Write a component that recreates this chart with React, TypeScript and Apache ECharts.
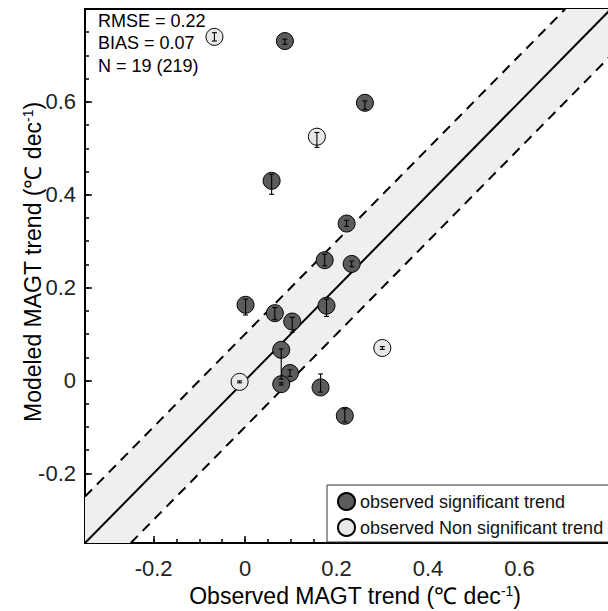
import React, { useEffect, useRef } from "react";
import * as echarts from "echarts";

const AXIS_MIN = -0.35;
const AXIS_MAX = 0.8;
const MAJOR_TICKS = [-0.2, 0, 0.2, 0.4, 0.6];
const MINOR_TICKS = [
  -0.35, -0.3, -0.25, -0.2, -0.15, -0.1, -0.05, 0, 0.05, 0.1, 0.15, 0.2, 0.25,
  0.3, 0.35, 0.4, 0.45, 0.5, 0.55, 0.6, 0.65, 0.7, 0.75, 0.8,
];
const BAND_OFFSET = 0.1;

const STATS = ["RMSE = 0.22", "BIAS = 0.07", "N = 19 (219)"];

const SIG_NAME = "observed significant trend";
const NONSIG_NAME = "observed Non significant trend";

// observed significant trend
const SIG_X = [0.087, 0.262, 0.058, 0.222, 0.174, 0.233, 0.001, 0.065, 0.103, 0.178, 0.079, 0.098, 0.079, 0.165, 0.218];
const SIG_Y = [0.731, 0.598, 0.43, 0.338, 0.259, 0.251, 0.163, 0.145, 0.127, 0.161, 0.066, 0.016, -0.008, -0.015, -0.076];
const SIG_LO = [0.724, 0.584, 0.401, 0.332, 0.247, 0.245, 0.141, 0.131, 0.104, 0.138, 0.003, 0.009, -0.01, -0.025, -0.089];
const SIG_HI = [0.735, 0.602, 0.444, 0.345, 0.272, 0.257, 0.175, 0.157, 0.136, 0.175, 0.068, 0.023, -0.005, 0.014, -0.061];

// observed non significant trend
const NS_X = [-0.067, 0.157, -0.012, 0.3];
const NS_Y = [0.74, 0.525, -0.003, 0.07];
const NS_LO = [0.731, 0.502, -0.005, 0.067];
const NS_HI = [0.749, 0.534, -0.001, 0.073];

const FONT = "'Liberation Sans', Arial, Helvetica, sans-serif";

function fmt(v: number) {
  const r = Math.round(v * 100) / 100;
  return r === 0 ? "0" : String(r);
}

export default function App() {
  const ref = useRef<HTMLDivElement>(null);

  useEffect(() => {
    if (!ref.current) return;
    const chart = echarts.init(ref.current, undefined, { renderer: "svg" });

    const sigPts = SIG_X.map((x, i) => [x, SIG_Y[i]]);
    const nsPts = NS_X.map((x, i) => [x, NS_Y[i]]);
    const errData = [
      ...SIG_X.map((x, i) => [x, SIG_LO[i], SIG_HI[i]]),
      ...NS_X.map((x, i) => [x, NS_LO[i], NS_HI[i]]),
    ];

    const lineStyleBlack = { stroke: "#000", lineWidth: 1.1 };

    const baseAxis = {
      type: "value",
      min: AXIS_MIN,
      max: AXIS_MAX,
      splitLine: { show: false },
    };

    const majorAxis = (name: string, isY: boolean) => ({
      ...baseAxis,
      position: isY ? "left" : "bottom",
      name,
      nameLocation: "middle",
      nameGap: isY ? 40 : 41,
      nameMoveOverlap: false,
      nameRotate: isY ? 90 : 0,
      nameTextStyle: {
        fontFamily: FONT,
        fontSize: 23,
        color: "#000",
        padding: isY ? [0, 0, 0, 28] : [0, 0, 0, 14],
        rich: {
          n: { fontFamily: FONT, fontSize: 23, color: "#000", lineHeight: 24 },
          sup: { fontFamily: FONT, fontSize: 14, color: "#000", verticalAlign: "top", lineHeight: 24, padding: [0, 0, 14, 0] },
        },
      },
      axisLine: { show: true, onZero: false, lineStyle: { color: "#000", width: 2 } },
      axisTick: {
        show: true,
        inside: true,
        length: 7,
        customValues: MAJOR_TICKS,
        lineStyle: { color: "#000", width: 1.5 },
      },
      axisLabel: {
        show: true,
        customValues: MAJOR_TICKS,
        formatter: (v: number) => fmt(v),
        fontFamily: FONT,
        fontSize: 22,
        lineHeight: 22,
        color: "#222",
        margin: isY ? 9 : 14,
      },
    });

    const minorAxis = (isY: boolean) => ({
      ...baseAxis,
      position: isY ? "left" : "bottom",
      axisLine: { show: false, onZero: false },
      axisTick: {
        show: true,
        inside: true,
        length: 4,
        customValues: MINOR_TICKS,
        lineStyle: { color: "#000", width: 1.5 },
      },
      axisLabel: { show: false },
    });

    const option: any = {
      animation: false,
      backgroundColor: "#fff",
      grid: {
        left: 85,
        top: 9,
        width: 526,
        height: 534,
        show: true,
        borderColor: "#000",
        borderWidth: 2,
        backgroundColor: "transparent",
        containLabel: false,
        outerBoundsMode: "none",
      },
      xAxis: [
        majorAxis("{n|Observed MAGT trend (℃ dec}{sup|-1}{n|)}", false),
        minorAxis(false),
      ],
      yAxis: [
        majorAxis("{n|Modeled MAGT trend (℃ dec}{sup|-1}{n|)}", true),
        minorAxis(true),
      ],
      legend: {
        data: [
          { name: SIG_NAME, icon: "circle" },
          { name: NONSIG_NAME, icon: "circle" },
        ],
        orient: "vertical",
        left: 327,
        top: 485,
        itemWidth: 17,
        itemHeight: 17,
        itemGap: 7,
        padding: [7, 12, 5, 10],
        backgroundColor: "#fff",
        borderColor: "#333",
        borderWidth: 1,
        borderRadius: 0,
        textStyle: { fontFamily: FONT, fontSize: 18, color: "#111", padding: [0, 0, 0, 0] },
        selectedMode: false,
        z: 10,
      },
      graphic: STATS.map((t, i) => ({
        type: "text",
        x: 98,
        y: 20.5 + i * 22.5,
        z: 20,
        style: {
          text: t,
          font: `18px ${FONT}`,
          fill: "#000",
          textVerticalAlign: "middle",
          verticalAlign: "middle",
        },
      })),
      series: [
        {
          type: "custom",
          name: "band",
          silent: true,
          z: 1,
          clip: true,
          data: [[0, 0]],
          renderItem: (params: any, api: any) => {
            const pts = [
              [AXIS_MIN, AXIS_MIN + BAND_OFFSET],
              [AXIS_MIN, AXIS_MIN],
              [AXIS_MIN + BAND_OFFSET, AXIS_MIN],
              [AXIS_MAX, AXIS_MAX - BAND_OFFSET],
              [AXIS_MAX, AXIS_MAX],
              [AXIS_MAX - BAND_OFFSET, AXIS_MAX],
            ].map((p) => api.coord(p));
            return {
              type: "polygon",
              shape: { points: pts },
              style: { fill: "#efefef", stroke: "none" },
            };
          },
        },
        {
          type: "line",
          name: "1:1",
          silent: true,
          z: 2,
          symbol: "none",
          data: [
            [AXIS_MIN, AXIS_MIN],
            [AXIS_MAX, AXIS_MAX],
          ],
          lineStyle: { color: "#000", width: 2 },
        },
        {
          type: "line",
          name: "upper",
          silent: true,
          z: 2,
          symbol: "none",
          data: [
            [AXIS_MIN, AXIS_MIN + BAND_OFFSET],
            [AXIS_MAX - BAND_OFFSET, AXIS_MAX],
          ],
          lineStyle: { color: "#000", width: 2, type: [10, 7] },
        },
        {
          type: "line",
          name: "lower",
          silent: true,
          z: 2,
          symbol: "none",
          data: [
            [AXIS_MIN + BAND_OFFSET, AXIS_MIN],
            [AXIS_MAX, AXIS_MAX - BAND_OFFSET],
          ],
          lineStyle: { color: "#000", width: 2, type: [10, 7] },
        },
        {
          type: "scatter",
          name: SIG_NAME,
          z: 3,
          symbol: "circle",
          symbolSize: 17,
          data: sigPts,
          itemStyle: { color: "#5c5c5c", borderColor: "#000", borderWidth: 1, opacity: 1 },
        },
        {
          type: "scatter",
          name: NONSIG_NAME,
          z: 3,
          symbol: "circle",
          symbolSize: 17,
          data: nsPts,
          itemStyle: { color: "#e8e8e8", borderColor: "#000", borderWidth: 1, opacity: 1 },
        },
        {
          type: "custom",
          name: "errors",
          silent: true,
          z: 4,
          clip: false,
          data: errData,
          encode: { x: 0, y: [1, 2] },
          renderItem: (params: any, api: any) => {
            const x = api.value(0);
            const lo = api.coord([x, api.value(1)]);
            const hi = api.coord([x, api.value(2)]);
            const cap = 2.5;
            return {
              type: "group",
              children: [
                { type: "line", shape: { x1: hi[0], y1: hi[1], x2: lo[0], y2: lo[1] }, style: lineStyleBlack },
                { type: "line", shape: { x1: hi[0] - cap, y1: hi[1], x2: hi[0] + cap, y2: hi[1] }, style: lineStyleBlack },
                { type: "line", shape: { x1: lo[0] - cap, y1: lo[1], x2: lo[0] + cap, y2: lo[1] }, style: lineStyleBlack },
              ],
            };
          },
        },
      ],
    };

    chart.setOption(option);
    return () => chart.dispose();
  }, []);

  return (
    <div
      ref={ref}
      style={{ position: "absolute", left: 0, top: 0, width: 608, height: 611, overflow: "hidden", background: "#fff" }}
    />
  );
}
